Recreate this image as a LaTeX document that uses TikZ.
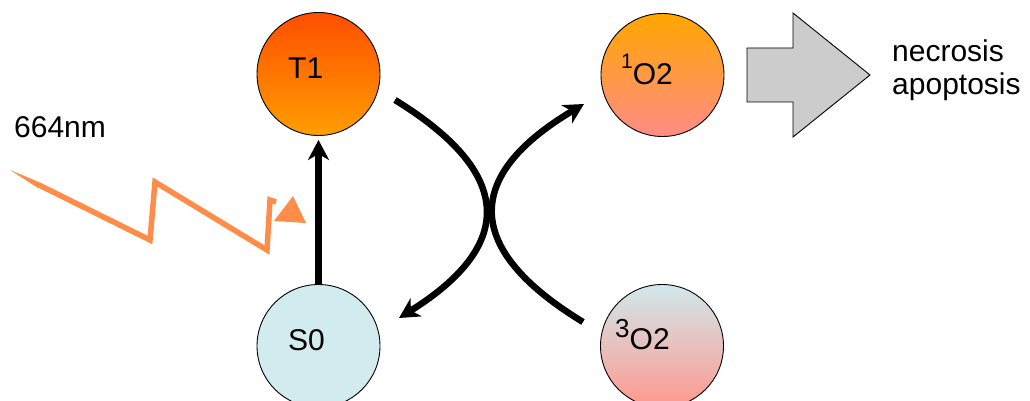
\documentclass[tikz,border=0pt]{standalone}
\usepackage{fontspec}
\setmainfont{Liberation Sans}
\usetikzlibrary{arrows.meta}
\definecolor{tonetop}{RGB}{255,78,0}
\definecolor{tonebot}{RGB}{255,158,0}
\definecolor{oonetop}{RGB}{255,166,0}
\definecolor{oonebot}{RGB}{255,140,135}
\definecolor{szero}{RGB}{210,235,238}
\definecolor{othreetop}{RGB}{208,232,236}
\definecolor{othreebot}{RGB}{255,152,142}
\definecolor{zigcol}{RGB}{255,140,72}
\definecolor{biggray}{RGB}{204,204,204}
\begin{document}
\begin{tikzpicture}[x=1pt,y=-1pt,
  statecirc/.style={circle, draw=black, line width=0.9pt, minimum size=123pt, inner sep=0pt},
  lbl/.style={font=\fontsize{30}{36}\selectfont, inner sep=0pt},
  thickarr/.style={line width=6.5pt, -{Stealth[length=20pt,width=21pt,inset=6pt]}},
  zig/.style={draw=zigcol, line width=5.5pt, line join=miter}
]
\useasboundingbox (0,0) rectangle (1030,401);

% circles
\node[statecirc, top color=tonetop, bottom color=tonebot] (t1) at (318.5,74) {};
\node[statecirc, fill=szero] (s0) at (318.5,346) {};
\node[statecirc, top color=oonetop, bottom color=oonebot] (o1) at (662.5,75) {};
\node[statecirc, top color=othreetop, bottom color=othreebot] (o3) at (662,346) {};

% labels
\node[lbl, anchor=base west] (t1txt) at (288,79) {T1};
\node[lbl, anchor=base west] (s0txt) at (288,350) {S0};
\node[lbl, anchor=base west] (o1txt) at (621,85) {\raisebox{16pt}{\fontsize{21}{21}\selectfont 1}O2};
\node[lbl, anchor=base west] (o3txt) at (615,349) {\raisebox{12pt}{\fontsize{26}{26}\selectfont 3}O2};
\node[lbl, anchor=base west] (nm) at (14,138) {664nm};
\node[lbl, anchor=base west] (nec) at (892,62) {necrosis};
\node[lbl, anchor=base west] (apo) at (892,95) {apoptosis};

% vertical arrow
\draw[thickarr, shorten >=4pt] (s0) -- (t1);

% curved arrows
\coordinate (aones) at (395,100);
\coordinate (aonee) at (399,318);
\draw[thickarr] (aones) .. controls (514,173) and (516,245) .. (aonee);
\coordinate (atwos) at (583,322);
\coordinate (atwoe) at (584,104);
\draw[thickarr] (atwos) .. controls (463,249) and (463,176) .. (atwoe);

% big gray arrow
\draw[fill=biggray, line width=0.9pt, line join=miter]
  (747,48) -- (793,48) -- (793,13) -- (870,75) -- (793,137) -- (793,102) -- (747,102) -- cycle;

% light zigzag
\fill[zigcol] (10,170) -- (40,182.5) -- (38,188) -- cycle;
\draw[zig] (39,185) -- (150,240) -- (155,182) -- (267,250) -- (270,200) -- (276,202);
\fill[zigcol] (274,221) -- (293,196) -- (306,223) -- cycle;
\end{tikzpicture}
\end{document}
